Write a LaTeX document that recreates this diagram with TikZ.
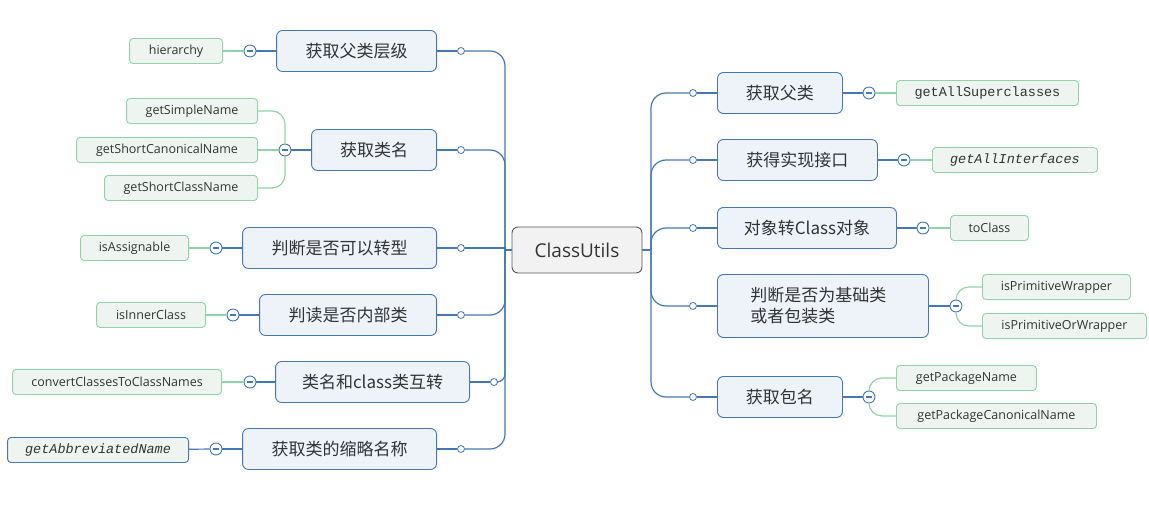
\documentclass[tikz,border=0pt]{standalone}
\usepackage{fontspec}
\setmainfont{Open Sans}
\newfontfamily\cjk{Noto Sans CJK SC}
\newfontfamily\monof{Liberation Mono}
\definecolor{blueL}{HTML}{4277B9}
\definecolor{blueF}{HTML}{EEF3FA}
\definecolor{greenL}{HTML}{8FD3A8}
\definecolor{greenF}{HTML}{EEF5F1}
\definecolor{rootF}{HTML}{F2F2F2}
\definecolor{rootL}{HTML}{555555}
\definecolor{txt}{HTML}{333333}
\begin{document}
\begin{tikzpicture}[x=1pt,y=-1pt,
  root/.style={draw=rootL, fill=rootF, rounded corners=6, line width=0.9, minimum width=130, minimum height=46, inner sep=0, text=txt, font=\fontsize{19}{22}\selectfont},
  lone/.style={draw=blueL, fill=blueF, rounded corners=6, line width=0.9, minimum height=41, inner sep=0, text=txt, font=\cjk\fontsize{17}{21}\selectfont},
  leaf/.style={draw=greenL, fill=greenF, rounded corners=3.5, line width=0.9, minimum height=25, inner sep=0, text=txt, font=\fontsize{12.5}{15}\selectfont},
  mleaf/.style={leaf, font=\monof\fontsize{13.5}{15}\selectfont},
  dot/.style={circle, draw=blueL, fill=white, line width=0.8, minimum size=7, inner sep=0},
  col/.style={circle, draw=blueL, fill=white, line width=0.9, minimum size=12, inner sep=0,
    path picture={\draw[blueL, line width=1.3] ([xshift=-3]path picture bounding box.center) -- ([xshift=3]path picture bounding box.center);}},
  bl/.style={draw=blueL, line width=1.2},
  gl/.style={draw=greenL, line width=1.2}
]
\useasboundingbox (0,0) rectangle (1149,505);

% root
\node[root] (root) at (577,250) {ClassUtils};
\coordinate (tL) at (505,250);
\coordinate (tR) at (651,250);

% left level 1
\node[lone, minimum width=160, anchor=east] (a1) at (437,51) {获取父类层级};
\node[lone, minimum width=125, anchor=east] (a2) at (437,150) {获取类名};
\node[lone, minimum width=194, anchor=east] (a3) at (437,248) {判断是否可以转型};
\node[lone, minimum width=177, anchor=east] (a4) at (437,315) {判读是否内部类};
\node[lone, minimum width=194, anchor=east] (a5) at (470,382) {类名和class类互转};
\node[lone, minimum width=194, anchor=east] (a6) at (437,449) {获取类的缩略名称};

% right level 1
\node[lone, minimum width=125, anchor=west] (b1) at (717,93) {获取父类};
\node[lone, minimum width=160, anchor=west] (b2) at (717,160) {获得实现接口};
\node[lone, minimum width=179, anchor=west] (b3) at (717,228) {对象转Class对象};
\node[lone, minimum width=211, minimum height=63, text width=145, anchor=west, align=left] (b4) at (717,306) {判断是否为基础类\\或者包装类};
\node[lone, minimum width=125, anchor=west] (b5) at (717,397) {获取包名};

% left leaves
\node[leaf, minimum width=93, anchor=east] (h1) at (223,51) {hierarchy};
\node[leaf, minimum width=131, anchor=east] (h2a) at (258,111) {getSimpleName};
\node[leaf, minimum width=181, anchor=east] (h2b) at (258,150) {getShortCanonicalName};
\node[leaf, minimum width=153, anchor=east] (h2c) at (258,188) {getShortClassName};
\node[leaf, minimum width=108, anchor=east] (h3) at (189,248) {isAssignable};
\node[leaf, minimum width=109, anchor=east] (h4) at (206,315) {isInnerClass};
\node[leaf, minimum width=209, anchor=east] (h5) at (222,382) {convertClassesToClassNames};
\node[mleaf, draw=blueL, minimum width=181, anchor=east] (h6) at (189,450) {\itshape getAbbreviatedName};

% right leaves
\node[mleaf, minimum width=182, anchor=west] (k1) at (896,93) {getAllSuperclasses};
\node[mleaf, minimum width=165, anchor=west] (k2) at (932,160) {\itshape getAllInterfaces};
\node[leaf, minimum width=78, anchor=west] (k3) at (950,228) {toClass};
\node[leaf, minimum width=148, anchor=west] (k4a) at (982,287) {isPrimitiveWrapper};
\node[leaf, minimum width=164, anchor=west] (k4b) at (982,326) {isPrimitiveOrWrapper};
\node[leaf, minimum width=140, anchor=west] (k5a) at (896,378) {getPackageName};
\node[leaf, minimum width=200, anchor=west] (k5b) at (896,416) {getPackageCanonicalName};

% connector dots
\node[dot] (ad1) at (461,51) {};
\node[dot] (ad2) at (461,150) {};
\node[dot] (ad3) at (461,248) {};
\node[dot] (ad4) at (461,315) {};
\node[dot] (ad5) at (494,382) {};
\node[dot] (ad6) at (461,449) {};
\node[dot] (bd1) at (693,93) {};
\node[dot] (bd2) at (693,160) {};
\node[dot] (bd3) at (693,228) {};
\node[dot] (bd4) at (693,306) {};
\node[dot] (bd5) at (693,397) {};

% collapse circles
\node[col] (ac1) at (250,51) {};
\node[col] (ac2) at (285,150) {};
\node[col] (ac3) at (216,248) {};
\node[col] (ac4) at (233,315) {};
\node[col] (ac5) at (250,382) {};
\node[col] (ac6) at (216,449) {};
\node[col] (bc1) at (869,93) {};
\node[col] (bc2) at (904,160) {};
\node[col] (bc3) at (923,228) {};
\node[col] (bc4) at (956,306) {};
\node[col] (bc5) at (869,397) {};

% trunks
\draw[bl, rounded corners=15] (ad1) -| (tL);
\draw[bl, rounded corners=15] (ad2) -| (tL);
\draw[bl] (ad3) -| (tL);
\draw[bl, rounded corners=15] (ad4) -| (tL);
\draw[bl, rounded corners=8] (ad5) -| (tL);
\draw[bl, rounded corners=15] (ad6) -| (tL);
\draw[bl] (tL) -- (root);
\draw[bl] (root) -- (tR);
\draw[bl, rounded corners=15] (tR) |- (bd1);
\draw[bl, rounded corners=15] (tR) |- (bd2);
\draw[bl, rounded corners=15] (tR) |- (bd3);
\draw[bl, rounded corners=15] (tR) |- (bd4);
\draw[bl, rounded corners=15] (tR) |- (bd5);

% level1 to dots
\foreach \n in {1,...,6} { \draw[bl] (a\n) -- (ad\n); \draw[bl] (ac\n) -- (a\n); }
\foreach \n in {1,...,5} { \draw[bl] (bd\n) -- (b\n); \draw[bl] (b\n) -- (bc\n); }

% leaves
\draw[gl] (h1) -- (ac1);
\draw[gl, rounded corners=13] (ac2) |- (h2a);
\draw[gl] (ac2) -- (h2b);
\draw[gl, rounded corners=13] (ac2) |- (h2c);
\draw[gl] (h3) -- (ac3);
\draw[gl] (h4) -- (ac4);
\draw[gl] (h5) -- (ac5);
\draw[bl] (h6) -- (ac6);
\draw[gl] (bc1) -- (k1);
\draw[gl] (bc2) -- (k2);
\draw[gl] (bc3) -- (k3);
\draw[gl, rounded corners=13] (bc4) |- (k4a);
\draw[gl, rounded corners=13] (bc4) |- (k4b);
\draw[gl, rounded corners=13] (bc5) |- (k5a);
\draw[gl, rounded corners=13] (bc5) |- (k5b);
\end{tikzpicture}
\end{document}
